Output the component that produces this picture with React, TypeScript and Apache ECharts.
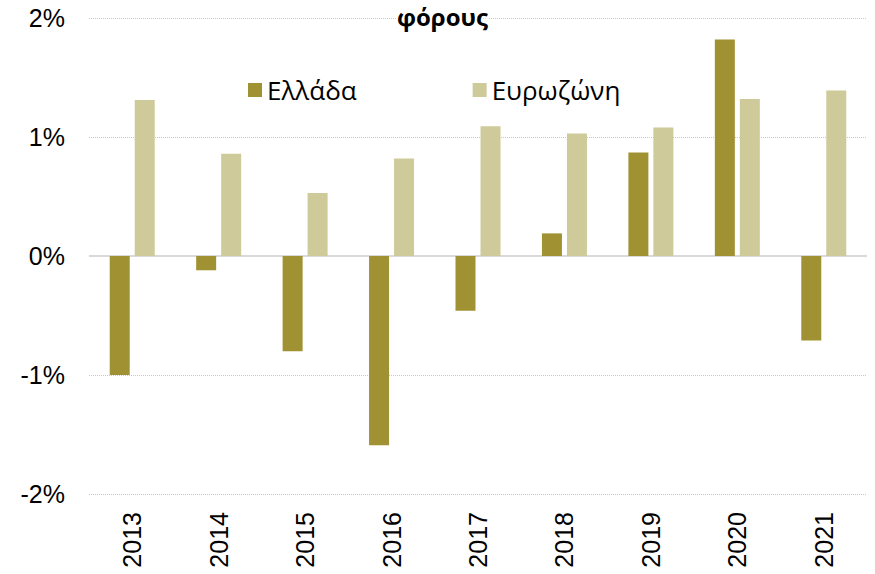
import React, { useEffect, useRef } from "react";
import * as echarts from "echarts";

const years = ["2013", "2014", "2015", "2016", "2017", "2018", "2019", "2020", "2021"];
const greece = [-1.0, -0.12, -0.8, -1.59, -0.46, 0.19, 0.87, 1.82, -0.71];
const eurozone = [1.31, 0.86, 0.53, 0.82, 1.09, 1.03, 1.08, 1.32, 1.39];
const seriesNames = ["Ελλάδα", "Ευρωζώνη"];
const titleText = "φόρους";

export default function App() {
  const ref = useRef<HTMLDivElement>(null);
  useEffect(() => {
    const chart = echarts.init(ref.current!, null, { renderer: "svg" });
    chart.setOption({
      animation: false,
      backgroundColor: "#ffffff",
      title: {
        text: titleText,
        left: 397,
        top: 4,
        padding: 0,
        textStyle: {
          fontFamily: "Open Sans",
          fontWeight: "bold",
          fontSize: 24,
          lineHeight: 24,
          color: "#000",
          textBorderColor: "#ffffff",
          textBorderWidth: 4,
        },
      },
      legend: {
        top: 72,
        left: 243,
        itemWidth: 14,
        itemHeight: 14,
        itemGap: 116,
        icon: "rect",
        data: seriesNames,
        textStyle: { fontFamily: "Open Sans", fontSize: 26, color: "#000", padding: [0, 0, 0, 0] },
      },
      grid: { left: 89, right: 8, top: 18, bottom: 80, containLabel: false },
      xAxis: {
        type: "category",
        data: years,
        axisLine: { show: false },
        axisTick: { show: false },
        axisLabel: {
          rotate: 90,
          margin: 18,
          fontFamily: "Liberation Sans",
          fontSize: 25,
          color: "#000",
        },
      },
      yAxis: {
        type: "value",
        min: -2,
        max: 2,
        interval: 1,
        axisLine: { show: false },
        axisTick: { show: false },
        axisLabel: {
          margin: 24,
          formatter: (v: number) => `${v}%`,
          fontFamily: "Liberation Sans",
          fontSize: 25,
          color: "#000",
        },
        splitLine: { lineStyle: { type: "dotted", color: "#c8c8c8", width: 1 } },
      },
      series: [
        {
          name: seriesNames[0],
          type: "bar",
          data: greece,
          barWidth: 20,
          barGap: "25%",
          itemStyle: { color: "#A09232" },
          markLine: {
            silent: true,
            symbol: "none",
            label: { show: false },
            lineStyle: { type: "solid", color: "#d9d9d9", width: 2 },
            data: [{ yAxis: 0 }],
            z: 1,
          },
        },
        {
          name: seriesNames[1],
          type: "bar",
          data: eurozone,
          barWidth: 20,
          itemStyle: { color: "#CFCA99" },
        },
      ],
    });
    return () => chart.dispose();
  }, []);
  return <div ref={ref} style={{ width: 875, height: 574, position: "absolute", left: 0, top: 0 }} />;
}
